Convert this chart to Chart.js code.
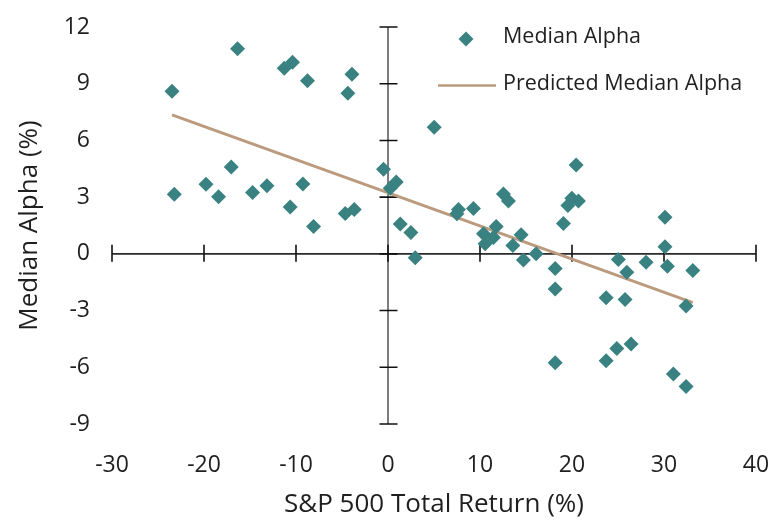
<!DOCTYPE html>
<html>
<head>
<meta charset="utf-8">
<script src="https://cdn.jsdelivr.net/npm/chart.js@4.4.1/dist/chart.umd.min.js"></script>
<style>
  html, body { margin: 0; padding: 0; background: #ffffff; }
  #wrap { width: 773px; height: 521px; }
</style>
</head>
<body>
<div id="wrap"><canvas id="chart" width="773" height="521"></canvas></div>
<script>
// Yearly S&P 500 total return (%) and the median alpha (%) observed that year
const sp500Return = [
  -23.48, -16.35, -11.28, -10.38, -8.75, -3.92, -4.36,
  -23.23, -19.78, -18.42, -17.04, -14.72, -13.16, -9.25, -10.63, -8.09, -4.65, -3.67, -0.49,
  0.24, 0.9, 5.02, 1.33, 2.49, 2.96, 7.66, 7.49, 9.29, 12.55, 13.09,
  10.38, 10.56, 11.46, 11.76, 13.57, 14.47, 14.72, 16.1, 18.17, 18.17, 18.17,
  19.07, 19.55, 19.98, 20.7, 20.45,
  25.04, 25.96, 28.05, 30.11, 30.11, 30.37, 33.13,
  23.71, 25.77, 32.4, 23.71, 24.87, 26.42, 31.02, 32.4
];
const medianAlpha = [
  8.6, 10.85, 9.82, 10.14, 9.16, 9.5, 8.5,
  3.15, 3.68, 3.02, 4.6, 3.24, 3.6, 3.7, 2.48, 1.45, 2.14, 2.35, 4.47,
  3.47, 3.8, 6.7, 1.58, 1.13, -0.21, 2.35, 2.12, 2.4, 3.17, 2.8,
  1.06, 0.54, 0.87, 1.45, 0.44, 1.01, -0.33, 0.0, -0.78, -1.86, -5.76,
  1.6, 2.56, 2.94, 2.8, 4.7,
  -0.3, -0.97, -0.44, 1.93, 0.38, -0.65, -0.88,
  -2.32, -2.42, -2.76, -5.65, -5.0, -4.77, -6.35, -7.02
];

// Fitted line end points across the observed return range
const fitReturn = [-23.48, 33.13];
const fitAlpha = [7.35, -2.58];

const xTickValues = [-30, -20, -10, 0, 10, 20, 30, 40];
const yTickValues = [-9, -6, -3, 0, 3, 6, 9, 12];

const seriesNames = ['Median Alpha', 'Predicted Median Alpha'];
const axisTitles = ['S&P 500 Total Return (%)', 'Median Alpha (%)'];

const FONT = "'Open Sans', 'Noto Sans', sans-serif";
const TEXT = '#1f1f1f';
const TEAL = '#3a8282';
const TAN = '#bb9a7e';

const scatterPoints = sp500Return.map((x, i) => ({ x: x, y: medianAlpha[i] }));
const fitPoints = fitReturn.map((x, i) => ({ x: x, y: fitAlpha[i] }));

// Axes that cross at the origin, with tick marks straddling each line
const crossAxes = {
  id: 'crossAxes',
  beforeDatasetsDraw(chart) {
    const { ctx, scales: { x, y } } = chart;
    const x0 = x.getPixelForValue(0);
    const y0 = y.getPixelForValue(0);
    ctx.save();
    ctx.lineCap = 'butt';
    // vertical axis
    ctx.strokeStyle = '#7d7d7d';
    ctx.lineWidth = 2;
    ctx.beginPath();
    ctx.moveTo(x0, y.getPixelForValue(yTickValues[yTickValues.length - 1]));
    ctx.lineTo(x0, y.getPixelForValue(yTickValues[0]));
    ctx.stroke();
    // horizontal axis
    ctx.strokeStyle = '#2a2a2a';
    ctx.lineWidth = 1.6;
    ctx.beginPath();
    ctx.moveTo(x.getPixelForValue(xTickValues[0]), y0);
    ctx.lineTo(x.getPixelForValue(xTickValues[xTickValues.length - 1]), y0);
    ctx.stroke();
    // tick marks
    ctx.strokeStyle = '#111111';
    ctx.lineWidth = 1.6;
    ctx.beginPath();
    yTickValues.forEach(v => {
      const py = y.getPixelForValue(v);
      ctx.moveTo(x0 - 8.5, py);
      ctx.lineTo(x0 + 9.5, py);
    });
    xTickValues.forEach(v => {
      const px = x.getPixelForValue(v);
      ctx.moveTo(px, y0 - 9);
      ctx.lineTo(px, y0 + 8);
    });
    ctx.stroke();
    ctx.restore();
  }
};

// Series key in the upper right
const seriesKey = {
  id: 'seriesKey',
  afterDraw(chart) {
    const ctx = chart.ctx;
    ctx.save();
    ctx.fillStyle = TEAL;
    ctx.strokeStyle = TEAL;
    Chart.helpers.drawPoint(ctx, { pointStyle: 'rectRot', radius: 7.5, rotation: 0, borderWidth: 0 }, 466, 39);
    ctx.strokeStyle = TAN;
    ctx.lineWidth = 2.5;
    ctx.beginPath();
    ctx.moveTo(438, 85.5);
    ctx.lineTo(496, 85.5);
    ctx.stroke();
    ctx.fillStyle = TEXT;
    ctx.font = "21.5px " + FONT;
    ctx.textBaseline = 'middle';
    ctx.textAlign = 'left';
    ctx.fillText(seriesNames[0], 503, 37);
    ctx.fillText(seriesNames[1], 503, 84);
    ctx.restore();
  }
};

function fitX(s) {
  s.height = 97;
  s.paddingLeft = 0;
  s.paddingRight = 0;
}
function fitY(s) {
  s.width = 112;
  s.paddingTop = 0;
  s.paddingBottom = 0;
}

new Chart(document.getElementById('chart'), {
  type: 'scatter',
  data: {
    datasets: [
      {
        label: seriesNames[0],
        data: scatterPoints,
        pointStyle: 'rectRot',
        pointRadius: 7.5,
        pointHoverRadius: 7.5,
        backgroundColor: TEAL,
        borderColor: TEAL,
        borderWidth: 0
      },
      {
        type: 'line',
        label: seriesNames[1],
        data: fitPoints,
        borderColor: TAN,
        borderWidth: 3,
        pointRadius: 0,
        fill: false,
        tension: 0
      }
    ]
  },
  options: {
    responsive: false,
    animation: false,
    devicePixelRatio: 1,
    layout: { padding: { top: 27, right: 17, left: 0, bottom: 0 } },
    plugins: {
      legend: { display: false },
      tooltip: { enabled: false }
    },
    scales: {
      x: {
        type: 'linear',
        min: -30,
        max: 40,
        afterBuildTicks: s => { s.ticks = xTickValues.map(v => ({ value: v })); },
        afterFit: fitX,
        grid: { display: false, drawTicks: false },
        border: { display: false },
        ticks: { color: TEXT, font: { family: FONT, size: 23 }, padding: 28, maxRotation: 0 },
        title: {
          display: true,
          text: axisTitles[0],
          color: TEXT,
          font: { family: FONT, size: 26, lineHeight: 1.2 },
          padding: { top: 0, bottom: 1 }
        }
      },
      y: {
        type: 'linear',
        min: -9,
        max: 12,
        afterBuildTicks: s => { s.ticks = yTickValues.map(v => ({ value: v })); },
        afterFit: fitY,
        grid: { display: false, drawTicks: false },
        border: { display: false },
        ticks: { color: TEXT, font: { family: FONT, size: 23 }, padding: 22 },
        title: {
          display: true,
          text: axisTitles[1],
          color: TEXT,
          font: { family: FONT, size: 26, lineHeight: 1.2 },
          padding: { top: 14, bottom: 0 }
        }
      }
    }
  },
  plugins: [crossAxes, seriesKey]
});
</script>
</body>
</html>
